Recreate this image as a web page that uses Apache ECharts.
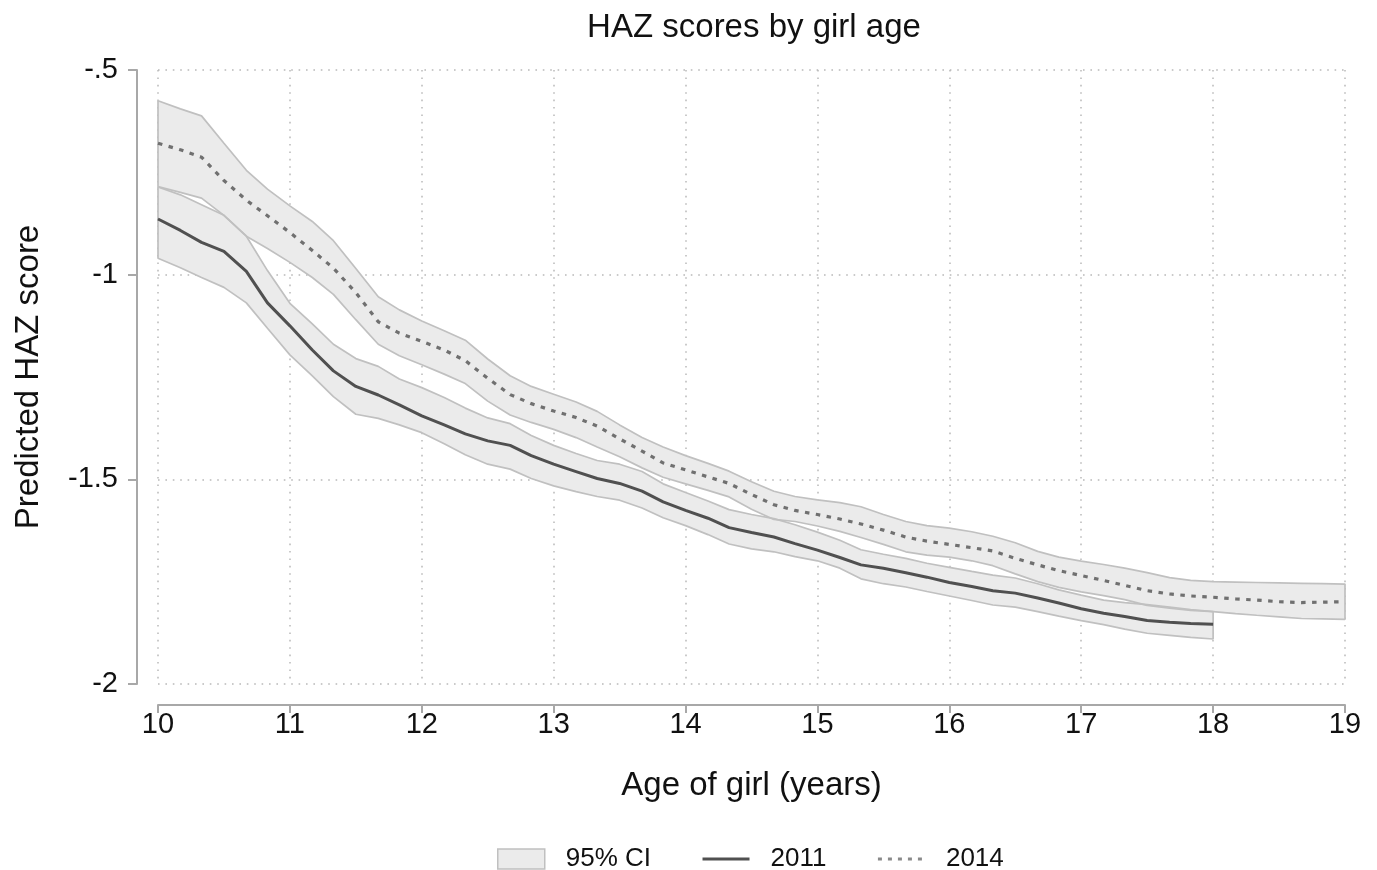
<!DOCTYPE html>
<html style="height: 100%">
<head>
<meta charset="utf-8">
<script src="https://cdn.jsdelivr.net/npm/echarts@6/dist/echarts.min.js"></script>
</head>
<body style="height: 100%; margin: 0; background: #fff">
<div id="container" style="width: 1377px; height: 870px"></div>
<script type="text/javascript">
// age grid (years), roughly every two months
var ages = [10, 10.17, 10.33, 10.5, 10.67, 10.83, 11, 11.17, 11.33, 11.5, 11.67, 11.83,
    12, 12.17, 12.33, 12.5, 12.67, 12.83, 13, 13.17, 13.33, 13.5, 13.67, 13.83,
    14, 14.17, 14.33, 14.5, 14.67, 14.83, 15, 15.17, 15.33, 15.5, 15.67, 15.83,
    16, 16.17, 16.33, 16.5, 16.67, 16.83, 17, 17.17, 17.33, 17.5, 17.67, 17.83,
    18, 18.17, 18.33, 18.5, 18.67, 18.83, 19];

// 2011 (ages 10 - 18)
var haz2011 = [-0.864, -0.892, -0.921, -0.943, -0.992, -1.069, -1.125, -1.184, -1.235, -1.273,
    -1.294, -1.318, -1.345, -1.367, -1.389, -1.406, -1.417, -1.442, -1.463, -1.481,
    -1.498, -1.510, -1.529, -1.555, -1.576, -1.595, -1.618, -1.630, -1.641, -1.657,
    -1.673, -1.691, -1.709, -1.717, -1.728, -1.739, -1.752, -1.762, -1.772, -1.778,
    -1.790, -1.802, -1.816, -1.827, -1.835, -1.845, -1.849, -1.852, -1.854];
var ci2011Upper = [-0.786, -0.805, -0.829, -0.855, -0.906, -0.990, -1.070, -1.120, -1.170, -1.205,
    -1.224, -1.255, -1.276, -1.300, -1.326, -1.350, -1.364, -1.393, -1.417, -1.437,
    -1.454, -1.463, -1.481, -1.511, -1.532, -1.553, -1.574, -1.586, -1.596, -1.611,
    -1.629, -1.649, -1.672, -1.683, -1.693, -1.705, -1.715, -1.725, -1.734, -1.741,
    -1.755, -1.770, -1.783, -1.795, -1.801, -1.806, -1.812, -1.818, -1.823];
var ci2011Lower = [-0.960, -0.983, -1.007, -1.031, -1.069, -1.131, -1.196, -1.247, -1.298, -1.341,
    -1.351, -1.367, -1.386, -1.413, -1.440, -1.463, -1.475, -1.498, -1.516, -1.530,
    -1.542, -1.551, -1.570, -1.594, -1.613, -1.635, -1.658, -1.670, -1.677, -1.689,
    -1.699, -1.717, -1.743, -1.755, -1.763, -1.774, -1.785, -1.796, -1.807, -1.812,
    -1.823, -1.834, -1.845, -1.855, -1.866, -1.876, -1.881, -1.886, -1.890];

// 2014 (ages 10 - 19)
var haz2014 = [-0.679, -0.695, -0.713, -0.770, -0.818, -0.856, -0.897, -0.941, -0.984, -1.044,
    -1.115, -1.143, -1.163, -1.184, -1.210, -1.253, -1.293, -1.315, -1.333, -1.349,
    -1.370, -1.401, -1.431, -1.460, -1.477, -1.494, -1.510, -1.537, -1.562, -1.576,
    -1.586, -1.597, -1.609, -1.624, -1.641, -1.651, -1.659, -1.667, -1.675, -1.693,
    -1.709, -1.723, -1.735, -1.747, -1.759, -1.772, -1.780, -1.785, -1.788, -1.792,
    -1.795, -1.799, -1.801, -1.800, -1.799];
var ci2014Upper = [-0.575, -0.595, -0.612, -0.679, -0.745, -0.791, -0.832, -0.870, -0.917, -0.985,
    -1.054, -1.086, -1.113, -1.137, -1.160, -1.206, -1.247, -1.273, -1.292, -1.311,
    -1.334, -1.367, -1.398, -1.421, -1.442, -1.461, -1.480, -1.506, -1.529, -1.542,
    -1.550, -1.557, -1.567, -1.586, -1.603, -1.613, -1.619, -1.628, -1.639, -1.655,
    -1.676, -1.690, -1.700, -1.708, -1.717, -1.728, -1.740, -1.747, -1.750, -1.751,
    -1.752, -1.753, -1.754, -1.755, -1.756];
var ci2014Lower = [-0.785, -0.799, -0.813, -0.855, -0.906, -0.936, -0.970, -1.007, -1.048, -1.110,
    -1.170, -1.198, -1.220, -1.243, -1.266, -1.309, -1.343, -1.361, -1.378, -1.398,
    -1.421, -1.445, -1.472, -1.495, -1.511, -1.527, -1.543, -1.573, -1.598, -1.603,
    -1.614, -1.627, -1.642, -1.659, -1.677, -1.685, -1.690, -1.699, -1.711, -1.731,
    -1.750, -1.764, -1.775, -1.784, -1.794, -1.808, -1.815, -1.820, -1.823, -1.828,
    -1.832, -1.836, -1.840, -1.841, -1.842];

var xTicks = [10, 11, 12, 13, 14, 15, 16, 17, 18, 19];
var yTicks = [-2, -1.5, -1, -0.5];
var yTickLabels = ['-2', '-1.5', '-1', '-.5'];

var FONT = 'Liberation Sans, Arial, Helvetica, sans-serif';
var FILL = '#ebebeb';
var EDGE = '#c0c0c0';
var AXIS = '#a8a8a8';
var GRID = '#b9b9b9';

function pairs(ys) {
    return ys.map(function (v, i) { return [ages[i], v]; });
}
// closed outline of a band: upper edge, right end, lower edge back, left end
function outline(up, lo) {
    var pts = [];
    for (var i = 0; i < up.length; i++) pts.push([ages[i], up[i]]);
    for (var j = lo.length - 1; j >= 0; j--) pts.push([ages[j], lo[j]]);
    pts.push([ages[0], up[0]]);
    return pts;
}
function bandFill(up, lo) {
    return {
        name: '95% CI', type: 'custom', silent: true, z: 1,
        data: [[ages[0], up[0]]],
        itemStyle: { color: FILL },
        renderItem: function (params, api) {
            var pts = outline(up, lo).map(function (p) { return api.coord(p); });
            return { type: 'polygon', shape: { points: pts }, style: { fill: FILL } };
        }
    };
}
function bandEdge(up, lo) {
    return {
        type: 'line', data: outline(up, lo), symbol: 'none', clip: false,
        lineStyle: { color: EDGE, width: 1.7 }, silent: true, z: 2
    };
}

var dom = document.getElementById('container');
var myChart = echarts.init(dom, null, { renderer: 'canvas' });

var option = {
    animation: false,
    backgroundColor: '#fff',
    textStyle: { fontFamily: FONT },
    title: {
        text: 'HAZ scores by girl age',
        left: 749,
        top: 6,
        textAlign: 'center',
        textStyle: { fontFamily: FONT, fontSize: 33, fontWeight: 'normal', color: '#111' }
    },
    legend: {
        left: 492,
        top: 841,
        itemWidth: 47,
        itemHeight: 20,
        itemGap: 50,
        textStyle: { fontFamily: FONT, fontSize: 26, color: '#111', padding: [0, 0, 0, 16] },
        data: [
            { name: '95% CI', icon: 'rect', itemStyle: { color: FILL, borderColor: EDGE, borderWidth: 1.5 } },
            { name: '2011', itemStyle: { opacity: 0 }, lineStyle: { width: 3, color: '#505050' } },
            { name: '2014', itemStyle: { opacity: 0 }, lineStyle: { width: 3, color: '#8a8a8a', type: [4, 6] } }
        ]
    },
    grid: { left: 158, right: 32, top: 70, bottom: 186 },
    xAxis: {
        type: 'value',
        min: 10,
        max: 19,
        interval: 1,
        offset: 21,
        name: 'Age of girl (years)',
        nameLocation: 'middle',
        nameGap: 64,
        nameTextStyle: { fontFamily: FONT, fontSize: 33, color: '#111' },
        axisLine: { lineStyle: { color: AXIS, width: 2 } },
        axisTick: { length: 8, lineStyle: { color: AXIS, width: 2 } },
        axisLabel: {
            fontFamily: FONT, fontSize: 29, color: '#111', margin: 5,
            formatter: function (v) { return xTicks.indexOf(v) >= 0 ? String(v) : ''; }
        },
        splitLine: { show: true, lineStyle: { color: GRID, width: 1.5, type: [1.6, 5.8] } }
    },
    yAxis: {
        type: 'value',
        min: -2,
        max: -0.5,
        interval: 0.5,
        offset: 21,
        name: 'Predicted HAZ score',
        nameLocation: 'middle',
        nameGap: 92,
        nameTextStyle: { fontFamily: FONT, fontSize: 33, color: '#111' },
        axisLine: { show: true, lineStyle: { color: AXIS, width: 2 } },
        axisTick: { show: true, length: 9, lineStyle: { color: AXIS, width: 2 } },
        axisLabel: {
            fontFamily: FONT, fontSize: 29, color: '#111', margin: 19,
            formatter: function (v) {
                var k = yTicks.indexOf(v);
                return k >= 0 ? yTickLabels[k] : '';
            }
        },
        splitLine: { show: true, lineStyle: { color: GRID, width: 1.5, type: [1.6, 5.8] } }
    },
    series: [
        bandFill(ci2011Upper, ci2011Lower),
        bandFill(ci2014Upper, ci2014Lower),
        bandEdge(ci2011Upper, ci2011Lower),
        bandEdge(ci2014Upper, ci2014Lower),
        {
            name: '2011', type: 'line', data: pairs(haz2011), symbol: 'none', z: 3,
            itemStyle: { color: '#505050' },
            lineStyle: { color: '#505050', width: 3 }
        },
        {
            name: '2014', type: 'line', data: pairs(haz2014), symbol: 'none', z: 3,
            itemStyle: { color: '#707070' },
            lineStyle: { color: '#707070', width: 3.2, type: [4.5, 6.5] }
        }
    ]
};

myChart.setOption(option, true);
</script>
</body>
</html>
